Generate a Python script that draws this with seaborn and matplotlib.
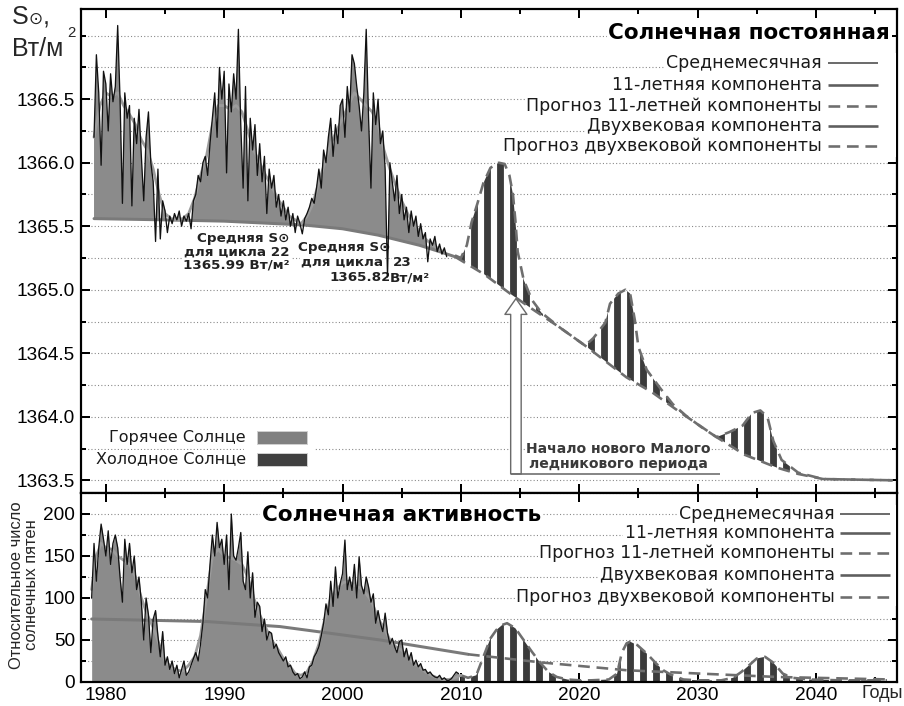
import numpy as np
import matplotlib
matplotlib.use("Agg")
import matplotlib.pyplot as plt
import seaborn as sns
from matplotlib.patches import Rectangle
from matplotlib.ticker import MultipleLocator, FixedLocator, FormatStrFormatter

# ---------------- data ----------------
# Total solar irradiance, monthly means (every 0.2 yr from 1979.0)
tsi_start, tsi_step = 1979.0, 0.2
tsi_monthly = [
    1366.20, 1366.85, 1366.55, 1365.98, 1366.72,
    1366.62, 1366.25, 1366.70, 1366.48, 1366.60,
    1367.08, 1366.50, 1365.68, 1366.55, 1366.35,
    1366.45, 1365.66, 1366.35, 1366.15, 1366.42,
    1366.05, 1365.70, 1366.20, 1366.40, 1366.00,
    1365.85, 1365.38, 1365.95, 1365.40, 1365.70,
    1365.62, 1365.45, 1365.58, 1365.52, 1365.60,
    1365.55, 1365.62, 1365.50, 1365.58, 1365.54,
    1365.60, 1365.48, 1365.70, 1365.75, 1365.90,
    1365.85, 1366.00, 1366.05, 1365.90, 1366.15,
    1366.35, 1366.55, 1366.20, 1366.75, 1366.50,
    1366.72, 1365.92, 1366.62, 1366.40, 1366.70,
    1366.50, 1367.05, 1366.30, 1365.80, 1366.60,
    1365.70, 1366.35, 1366.10, 1366.30, 1365.90,
    1366.15, 1365.85, 1366.05, 1365.60, 1365.95,
    1365.80, 1365.90, 1365.65, 1365.75, 1365.58,
    1365.70, 1365.55, 1365.65, 1365.50, 1365.60,
    1365.45, 1365.58, 1365.52, 1365.44, 1365.56,
    1365.60, 1365.65, 1365.72, 1365.68, 1365.80,
    1365.95, 1365.80, 1366.10, 1366.00, 1366.20,
    1366.35, 1366.05, 1366.30, 1366.15, 1366.45,
    1366.50, 1366.20, 1366.60, 1366.40, 1366.85,
    1366.78, 1366.60, 1366.45, 1366.25, 1366.55,
    1367.05, 1366.35, 1365.80, 1366.55, 1366.30,
    1366.50, 1366.15, 1366.25, 1365.95, 1365.10,
    1366.00, 1365.85, 1365.70, 1365.90, 1365.60,
    1365.75, 1365.55, 1365.65, 1365.45, 1365.62,
    1365.50, 1365.58, 1365.42, 1365.52, 1365.40,
    1365.45, 1365.22, 1365.40, 1365.35, 1365.42,
    1365.30, 1365.36, 1365.28, 1365.33, 1365.26,
]
# 11-year component of TSI
tsi11_years = [1979.0, 1979.5, 1980.0, 1980.5, 1981.0, 1981.5, 1982.0, 1982.5, 1983.0, 1983.5,
               1984.0, 1984.5, 1985.0, 1985.5, 1986.0, 1986.5, 1987.0, 1987.5, 1988.0, 1988.5,
               1989.0, 1989.5, 1990.0, 1990.5, 1991.0, 1991.5, 1992.0, 1992.5, 1993.0, 1993.5,
               1994.0, 1994.5, 1995.0, 1995.5, 1996.0, 1996.5, 1997.0, 1997.5, 1998.0, 1998.5,
               1999.0, 1999.5, 2000.0, 2000.5, 2001.0, 2001.5, 2002.0, 2002.5, 2003.0, 2003.5,
               2004.0, 2004.5, 2005.0, 2005.5, 2006.0, 2006.5, 2007.0, 2007.5, 2008.0, 2008.5]
tsi11_values = [1366.20, 1366.45, 1366.55, 1366.52, 1366.55, 1366.45, 1366.38, 1366.30, 1366.18, 1366.10,
                1365.95, 1365.75, 1365.60, 1365.56, 1365.55, 1365.56, 1365.60, 1365.72, 1365.90, 1366.05,
                1366.30, 1366.45, 1366.45, 1366.42, 1366.45, 1366.40, 1366.25, 1366.10, 1366.00, 1365.90,
                1365.82, 1365.72, 1365.65, 1365.58, 1365.55, 1365.52, 1365.58, 1365.68, 1365.85, 1366.00,
                1366.15, 1366.25, 1366.35, 1366.45, 1366.55, 1366.50, 1366.45, 1366.40, 1366.30, 1366.10,
                1365.95, 1365.82, 1365.70, 1365.60, 1365.52, 1365.46, 1365.40, 1365.36, 1365.33, 1365.30]
# bicentennial component of TSI (observed) and its forecast
tsi200_years = [1979.0, 1985.0, 1990.0, 1996.7, 2000.0, 2003.0, 2006.5, 2008.2, 2009.5]
tsi200_values = [1365.56, 1365.55, 1365.54, 1365.51, 1365.48, 1365.43, 1365.35, 1365.30, 1365.26]
tsi200_fc_years = [2009.5, 2012.0, 2014.3, 2016.0, 2018.4, 2020.5, 2024.0, 2026.2, 2028.3,
                   2031.6, 2034.0, 2036.7, 2038.5, 2040.6, 2046.5]
tsi200_fc_values = [1365.26, 1365.12, 1364.96, 1364.85, 1364.70, 1364.56, 1364.31, 1364.19, 1364.05,
                    1363.84, 1363.70, 1363.60, 1363.55, 1363.51, 1363.50]
# forecast of the 11-year TSI component
tsi11_fc_years = [2009.5, 2010.0, 2010.5, 2010.9, 2011.4, 2011.9, 2012.5, 2013.2, 2013.7, 2014.1,
                  2014.4, 2014.6, 2014.8, 2015.3, 2016.0, 2016.8, 2018.4, 2020.5, 2021.2, 2022.2,
                  2022.6, 2023.3, 2023.9, 2024.3, 2024.7, 2025.0, 2025.7, 2026.8, 2027.9, 2029.0,
                  2030.3, 2031.6, 2032.7, 2033.8, 2034.6, 2035.3, 2035.9, 2036.4, 2037.1, 2038.5,
                  2040.6, 2046.5]
tsi11_fc_values = [1365.27, 1365.25, 1365.35, 1365.53, 1365.68, 1365.84, 1365.96, 1366.00, 1365.99, 1365.90,
                   1365.75, 1365.55, 1365.30, 1365.08, 1364.92, 1364.82, 1364.70, 1364.56, 1364.62, 1364.74,
                   1364.89, 1364.97, 1365.00, 1364.97, 1364.76, 1364.55, 1364.37, 1364.23, 1364.10, 1364.01,
                   1363.92, 1363.84, 1363.88, 1363.93, 1364.03, 1364.05, 1364.00, 1363.81, 1363.66, 1363.56,
                   1363.51, 1363.50]
tsi_tick_values = [1363.5, 1364.0, 1364.5, 1365.0, 1365.5, 1366.0, 1366.5]

# Sunspot number, monthly means (every 0.2 yr from 1978.8)
ssn_start, ssn_step = 1978.8, 0.2
ssn_monthly = [
    100,
    165, 120, 160, 188, 170,
    150, 180, 140, 165, 175,
    160, 125, 95, 170, 140,
    165, 130, 150, 110, 125,
    95, 50, 100, 80, 35,
    75, 85, 55, 30, 60,
    20, 30, 15, 25, 10,
    20, 5, 15, 25, 8,
    12, 20, 28, 35, 25,
    45, 70, 110, 100, 140,
    175, 150, 190, 160, 170,
    140, 175, 110, 200, 150,
    145, 160, 178, 120, 110,
    155, 100, 130, 77, 95,
    90, 60, 75, 50, 60,
    58, 40, 45, 35, 30,
    25, 30, 18, 20, 12,
    8, 10, 4, 6, 12,
    5, 18, 20, 30, 35,
    42, 55, 70, 93, 80,
    120, 90, 137, 100, 117,
    129, 169, 110, 125, 109,
    140, 100, 149, 115, 105,
    125, 113, 95, 105, 70,
    85, 70, 60, 82, 58,
    45, 52, 42, 35, 48,
    50, 30, 40, 26, 35,
    20, 26, 18, 22, 14,
    15, 10, 12, 8, 6,
    5, 8, 3, 5, 2,
    2, 4, 8, 12, 10,
]
ssn11_years = [1978.8, 1979.2, 1979.6, 1980.0, 1980.5, 1981.0, 1981.5, 1982.0, 1982.5, 1983.0,
               1983.5, 1984.0, 1984.5, 1985.0, 1985.5, 1986.0, 1986.5, 1987.0, 1987.5, 1988.0,
               1988.5, 1989.0, 1989.5, 1990.0, 1990.5, 1991.0, 1991.5, 1992.0, 1992.5, 1993.0,
               1993.5, 1994.0, 1994.5, 1995.0, 1995.5, 1996.0, 1996.5, 1997.0, 1997.5, 1998.0,
               1998.5, 1999.0, 1999.5, 2000.0, 2000.5, 2001.0, 2001.5, 2002.0, 2002.5, 2003.0,
               2003.5, 2004.0, 2004.5, 2005.0, 2005.5, 2006.0, 2006.5, 2007.0, 2007.5, 2008.0,
               2008.5, 2009.0, 2009.5, 2010.0]
ssn11_values = [110, 150, 165, 160, 158, 150, 145, 140, 125, 100,
                80, 65, 45, 25, 18, 14, 13, 20, 30, 55,
                100, 150, 158, 150, 148, 145, 140, 125, 100, 80,
                65, 50, 40, 28, 20, 10, 8, 12, 25, 45,
                75, 100, 110, 118, 120, 115, 112, 105, 95, 75,
                65, 50, 42, 38, 30, 22, 18, 12, 8, 5,
                3, 3, 5, 8]
ssn200_years = [1978.8, 1988.5, 1994.7, 2003.2, 2010.6]
ssn200_values = [75, 72, 66, 50, 33]
ssn200_fc_years = [2010.6, 2017.0, 2024.0, 2030.2, 2036.7, 2046.3]
ssn200_fc_values = [33, 23, 14, 10, 6, 3]
ssn11_fc_years = [2010.0, 2010.6, 2011.3, 2011.9, 2012.5, 2013.0, 2013.5, 2013.9, 2014.6, 2015.3,
                  2016.0, 2016.7, 2017.4, 2018.1, 2019.0, 2020.0, 2021.0, 2022.5, 2023.2, 2023.6,
                  2024.0, 2024.3, 2024.9, 2025.7, 2026.5, 2027.1, 2027.7, 2028.8, 2030.0, 2032.0,
                  2033.0, 2033.7, 2034.2, 2035.0, 2035.7, 2036.4, 2037.2, 2038.0, 2039.5, 2042.0,
                  2046.0]
ssn11_fc_values = [8, 5, 8, 30, 52, 62, 68, 70, 64, 50,
                   36, 23, 12, 6, 3, 2, 2, 3, 10, 35,
                   46, 48, 44, 34, 22, 14, 9, 3, 2, 2,
                   5, 12, 18, 28, 30, 23, 10, 5, 3, 2,
                   2]

x_ticks_labels = ["1980", "1990", "2000", "2010", "2020", "2030", "2040"]
legend_labels = ["Среднемесячная", "11-летняя компонента", "Прогноз 11-летней компоненты",
                 "Двухвековая компонента", "Прогноз двухвековой компоненты"]

# ---------------- styling ----------------
DPI = 78
W, H = 904, 706
sns.set_theme(style="white")
plt.rcParams["font.family"] = ["DejaVu Sans"]
plt.rcParams["hatch.linewidth"] = 6.3
plt.rcParams["hatch.color"] = "#3b3b3b"


def pt(v):
    return v * 72.0 / DPI


SANS = ["Liberation Sans", "DejaVu Sans"]
C_FILL = "#8b8b8b"
C_MONTH = "#111111"
C_11 = "#9c9c9c"
C_200 = "#7a7a7a"
C_FC = "#6e6e6e"
C_HATCH = "#3b3b3b"
DASH = (0, (4.5, 2.6))

fig = plt.figure(figsize=(W / DPI, H / DPI), dpi=DPI)
fig.patch.set_facecolor("white")


def box(x0, y0, x1, y1):
    return [x0 / W, 1 - y1 / H, (x1 - x0) / W, (y1 - y0) / H]


ax1 = fig.add_axes(box(81, 9, 897, 493))
ax2 = fig.add_axes(box(81, 493, 897, 682), sharex=ax1)

for ax in (ax1, ax2):
    ax.set_facecolor("white")
    for s in ax.spines.values():
        s.set_visible(True)
        s.set_linewidth(pt(2.2))
        s.set_color("black")
    ax.tick_params(which="both", direction="in", top=True, right=True, bottom=True, left=True,
                   colors="black", labelcolor="black")
    ax.tick_params(which="major", length=pt(9), width=pt(2))
    ax.tick_params(which="minor", length=pt(5), width=pt(2))
    ax.tick_params(axis="both", labelsize=pt(19), labelfontfamily="Liberation Sans", pad=pt(6))
    ax.xaxis.set_major_locator(MultipleLocator(10))
    ax.xaxis.set_minor_locator(MultipleLocator(5))
    ax.grid(False)
    ax.yaxis.grid(True, which="both", linestyle=(0, (1, 2)), color="#8a8a8a", linewidth=pt(1.1))
    ax.set_axisbelow(True)

ax1.set_xlim(1977.9, 2046.85)
ax1.set_ylim(1363.40, 1367.21)
ax1.yaxis.set_major_locator(FixedLocator(tsi_tick_values))
ax1.yaxis.set_minor_locator(MultipleLocator(0.25))
ax1.yaxis.set_major_formatter(FormatStrFormatter("%.1f"))
ax1.tick_params(labelbottom=False)
ax2.set_ylim(0, 225)
ax2.yaxis.set_major_locator(MultipleLocator(50))
ax2.yaxis.set_minor_locator(MultipleLocator(25))
ax2.yaxis.set_major_formatter(FormatStrFormatter("%d"))
ax2.set_xticks([int(t) for t in x_ticks_labels])
ax2.set_xticklabels(x_ticks_labels)
ax2.tick_params(axis="x", pad=pt(5))


def sline(ax, x, y, **kw):
    sns.lineplot(x=np.asarray(x, float), y=np.asarray(y, float), ax=ax, estimator=None,
                 sort=False, legend=False, **kw)


# ---------------- top panel ----------------
tsi_x = tsi_start + tsi_step * np.arange(len(tsi_monthly))
tsi_y = np.asarray(tsi_monthly)
base = np.interp(tsi_x, tsi200_years, tsi200_values)
ax1.fill_between(tsi_x, base, tsi_y, where=tsi_y >= base, interpolate=True,
                 color=C_FILL, lw=0, zorder=1.2)

fx = np.union1d(tsi11_fc_years, tsi200_fc_years)
f11 = np.interp(fx, tsi11_fc_years, tsi11_fc_values)
f200 = np.interp(fx, tsi200_fc_years, tsi200_fc_values)
ax1.fill_between(fx, f200, f11, where=f11 >= f200 + 0.005, interpolate=True,
                 facecolor="white", edgecolor=C_HATCH, hatch="|", lw=0, zorder=1.3)

sline(ax1, tsi200_years, tsi200_values, color=C_200, linewidth=pt(3), zorder=2.2)
sline(ax1, tsi200_fc_years, tsi200_fc_values, color=C_FC, linewidth=pt(2.6), linestyle=DASH, zorder=2.2)
sline(ax1, tsi11_fc_years, tsi11_fc_values, color=C_FC, linewidth=pt(2.6), linestyle=DASH, zorder=2.3)
sline(ax1, tsi11_years, tsi11_values, color=C_11, linewidth=pt(2.8), zorder=2.6)
sline(ax1, tsi_x, tsi_y, color=C_MONTH, linewidth=pt(1.3), zorder=3)

# annotations for cycles 22 and 23
ann_kw = dict(fontsize=pt(13.5), fontweight="bold", color="#222222", zorder=2.5,
              bbox=dict(fc="white", ec="none", pad=1.0))
ax1.text(1995.55, 1365.30, "Средняя S\u2299\nдля цикла 22\n1365.99 Вт/м²", ha="right", va="center",
         multialignment="right", linespacing=1.05, **ann_kw)
ax1.text(1996.2, 1365.33, "Средняя S\u2299", ha="left", va="center", **ann_kw)
ax1.text(1996.5, 1365.215, "для цикла", ha="left", va="center", **ann_kw)
ax1.text(2004.25, 1365.215, "23", ha="left", va="center", **ann_kw)
ax1.text(1998.9, 1365.095, "1365.82", ha="left", va="center", **ann_kw)
ax1.text(2004.0, 1365.095, "Вт/м²", ha="left", va="center", **ann_kw)

# arrow: beginning of a new Little Ice Age
ax1.annotate("", xy=(2014.65, 1364.93), xytext=(2014.65, 1363.55),
             arrowprops=dict(arrowstyle="simple,head_length=0.75,head_width=1.05,tail_width=0.5",
                             mutation_scale=pt(21), fc="white", ec="#6a6a6a", lw=pt(1.4),
                             shrinkA=0, shrinkB=0), zorder=4)
ax1.plot([2014.2, 2031.9], [1363.55, 1363.55], color="#6a6a6a", lw=pt(1.6), zorder=4,
         solid_capstyle="butt")
ax1.text(2023.3, 1363.69, "Начало нового Малого\nледникового периода", ha="center", va="center",
         fontsize=pt(14), fontweight="bold", color="#3a3a3a", linespacing=1.1, zorder=4,
         bbox=dict(fc="white", ec="none", pad=0.5))

# hot / cold sun legend
for lab, col, yy in [("Горячее Солнце", "#808080", 0.114), ("Холодное Солнце", "#404040", 0.070)]:
    ax1.text(0.202, yy, lab, transform=ax1.transAxes, ha="right", va="center", fontsize=pt(16),
             color="#1a1a1a", zorder=5, bbox=dict(fc="white", ec="none", pad=1.5))
    ax1.add_patch(Rectangle((0.216, yy - 0.0135), 0.061, 0.027, transform=ax1.transAxes,
                            fc=col, ec="#cfcfcf", lw=pt(1), zorder=5))
ax1.add_patch(Rectangle((0.20, 0.05), 0.085, 0.085, transform=ax1.transAxes, fc="white",
                        ec="none", zorder=4.5))

legend_styles = [
    dict(color="#4a4a4a", lw=pt(1.6)),
    dict(color="#5e5e5e", lw=pt(2.6)),
    dict(color="#6e6e6e", lw=pt(2.6), linestyle=DASH),
    dict(color="#5e5e5e", lw=pt(2.6)),
    dict(color="#6e6e6e", lw=pt(2.6), linestyle=DASH),
]


def legend_block(ax, title, tx, ty, t_ha, x_text, x_l0, x_l1, ys, dy):
    ax.text(tx, ty, title, transform=ax.transAxes, ha=t_ha, va="center", fontsize=pt(21.5),
            fontweight="bold", color="black", zorder=5, bbox=dict(fc="white", ec="none", pad=1.5))
    for lab, st, yy in zip(legend_labels, legend_styles, ys):
        ax.text(x_text, yy, lab, transform=ax.transAxes, ha="right", va="center",
                fontsize=pt(17.4), color="#1a1a1a", zorder=5,
                bbox=dict(fc="white", ec="none", pad=1.5))
        ax.plot([x_l0, x_l1], [yy, yy], transform=ax.transAxes, zorder=6,
                solid_capstyle="butt", dash_capstyle="butt", **st)
    ax.add_patch(Rectangle((x_text, ys[-1] - dy), 0.999 - x_text, ys[0] - ys[-1] + 2 * dy,
                           transform=ax.transAxes, fc="white", ec="none", zorder=4.5))


legend_block(ax1, "Солнечная постоянная", 0.9914, 0.9504, "right", 0.908, 0.9154, 0.9767,
             [0.888, 0.843, 0.800, 0.758, 0.717], 0.022)

# ---------------- bottom panel ----------------
ssn_x = ssn_start + ssn_step * np.arange(len(ssn_monthly))
ssn_y = np.asarray(ssn_monthly, float)
ax2.fill_between(ssn_x, 0, ssn_y, color=C_FILL, lw=0, zorder=1.2)
ax2.fill_between(ssn11_fc_years, 0, ssn11_fc_values, facecolor="white", edgecolor=C_HATCH,
                 hatch="|", lw=0, zorder=1.3)
sline(ax2, ssn200_years, ssn200_values, color=C_200, linewidth=pt(3), zorder=2.2)
sline(ax2, ssn200_fc_years, ssn200_fc_values, color=C_FC, linewidth=pt(2.6), linestyle=DASH, zorder=2.2)
sline(ax2, ssn11_fc_years, ssn11_fc_values, color=C_FC, linewidth=pt(2.6), linestyle=DASH, zorder=2.3)
sline(ax2, ssn11_years, ssn11_values, color=C_11, linewidth=pt(2.8), zorder=2.6)
sline(ax2, ssn_x, ssn_y, color=C_MONTH, linewidth=pt(1.3), zorder=3)

legend_block(ax2, "Солнечная активность", 0.222, 0.884, "left", 0.924, 0.930, 0.991,
             [0.889, 0.788, 0.683, 0.566, 0.450], 0.05)

# ---------------- axis labels ----------------
fig.text(12 / W, 1 - 5 / H, "S", ha="left", va="top", fontsize=pt(25), family=SANS)
fig.text(29 / W, 1 - 12 / H, "\u2299", ha="left", va="top", fontsize=pt(17), family=SANS)
fig.text(43 / W, 1 - 5 / H, ",", ha="left", va="top", fontsize=pt(25), family=SANS)
fig.text(12 / W, 1 - 37 / H, "Вт/м", ha="left", va="top", fontsize=pt(25), family=SANS)
fig.text(67 / W, 1 - 26 / H, "2", ha="left", va="top", fontsize=pt(15), family=SANS)
fig.text(24 / W, 1 - 585 / H, "Относительное число\nсолнечных пятен", rotation=90,
         ha="center", va="center", multialignment="center", fontsize=pt(16.5), family=SANS,
         linespacing=1.0)
fig.text(903 / W, 1 - 694 / H, "Годы", ha="right", va="center", fontsize=pt(18), family=SANS)

fig.savefig("out.png", dpi=DPI, facecolor="white")
